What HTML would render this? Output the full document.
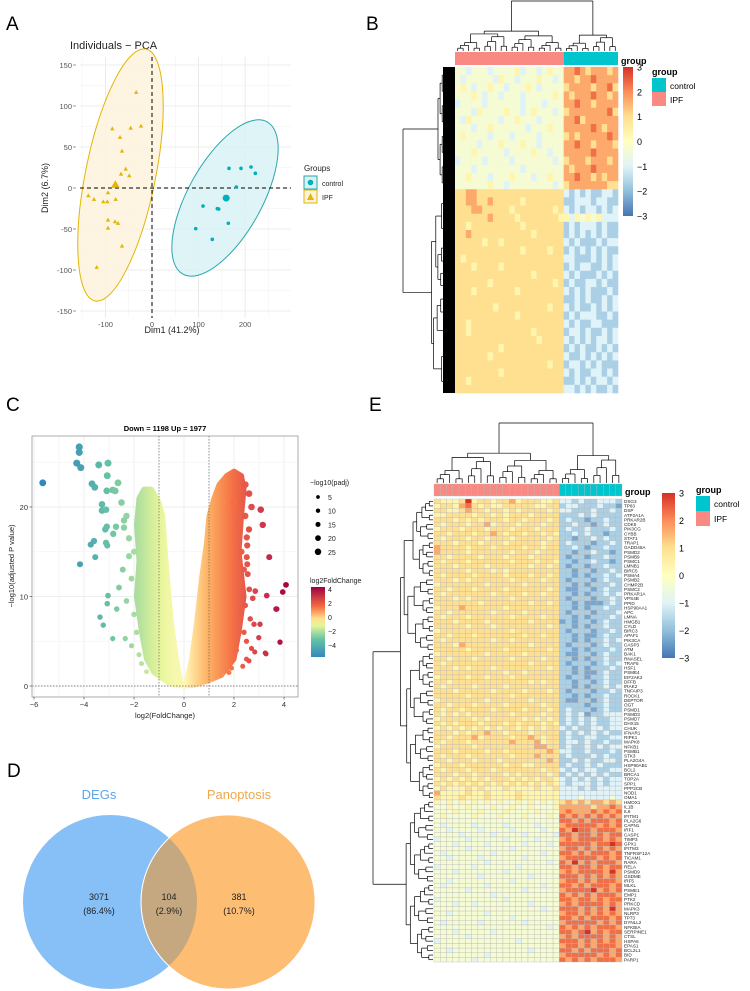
<!DOCTYPE html>
<html><head><meta charset="utf-8"><style>
html,body{margin:0;padding:0;background:#fff;}
svg{display:block;font-family:"Liberation Sans",sans-serif;}
</style></head><body>
<svg id="fig" width="750" height="991" viewBox="0 0 750 991" xmlns="http://www.w3.org/2000/svg">
<defs>
<linearGradient id="hmGrad" x1="0" y1="1" x2="0" y2="0">
<stop offset="0" stop-color="#4575b4"/><stop offset="0.1667" stop-color="#91bfdb"/><stop offset="0.333" stop-color="#e0f3f8"/><stop offset="0.5" stop-color="#ffffbf"/><stop offset="0.667" stop-color="#fee090"/><stop offset="0.833" stop-color="#fc8d59"/><stop offset="1" stop-color="#d73027"/>
</linearGradient>
<linearGradient id="fcBar" x1="0" y1="1" x2="0" y2="0">
<stop offset="0" stop-color="#3288bd"/><stop offset="0.25" stop-color="#66c2a5"/><stop offset="0.45" stop-color="#e6f598"/><stop offset="0.55" stop-color="#fee08b"/><stop offset="0.72" stop-color="#f46d43"/><stop offset="1" stop-color="#9e0142"/>
</linearGradient>
</defs>
<g id="panelA"></g>
<g id="panelB"></g>
<g id="panelC"></g>
<g id="panelD"></g>
<g id="panelE"></g>
</svg>
<script>
// ---------- DATA ----------
const ipfDim1 = [-34,-85.3,-45.8,-23.6,-68.7,-64.4,-66.6,-56.5,-48.8,-136.8,-124.6,-94.5,-104.6,-96,-78,-94.5,-94.5,-79.5,-73,-64.4,-118.8];
const ipfDim2 = [116.7,72.3,73.2,75.6,61.8,45.1,17.1,23.2,15,-9.4,-13.8,-5.7,-16.7,-16.7,-13.8,-39,-48.8,-41.1,-43,-70.7,-96.7];
const ctlDim1 = [165.4,191.2,212.7,222,181.1,109.6,140.3,143.3,164,93.9,129.5];
const ctlDim2 = [24,24,25.6,17.9,1.2,-22,-25.2,-25.6,-43,-49.6,-62.6];
const pcaXTicks = [-100,0,100,200];
const pcaYTicks = [-150,-100,-50,0,50,100,150];

const volcFC = [-5.65,-4.19,-4.19,-4.29,-4.13,-3.41,-3.04,-3.07,-3.68,-3.57,-2.64,-3.28,-3.09,-2.85,-2.75,-3.28,-3.12,-3.09,-3.15,-2.72,-2.83,-2.4,-3.6,-3.73,-3.55,-3.12,-3.07,-4.16,-3.04,-3.07,-2.69,-3.36,-3.23,-2.85,-2.35,-2.5,-2.3,-2.2,-2.45,-2.1,-2.3,-2.0,-2.6,-2.2,-1.9,-2.1,-1.8,-2.4,-2.0,-1.7,-1.6,-1.5,
3.07,3.15,3.41,4.08,3.95,3.68,3.31,3.84,3.25,3.04,2.85,2.61,2.51,2.53,2.53,2.51,3.71,3.84,3.28,2.83,2.99,2.8,2.6,2.7,2.55,2.45,2.65,2.4,2.7,2.5,2.35,2.6,2.45,2.3,2.2,2.4,2.5,2.3,2.1,2.6,2.45,2.75,1.9,1.8,1.6,1.5,2.2,2.0];
const volcP = [22.7,26.7,26.1,24.9,24.4,24.7,24.9,23.5,22.6,22.2,22.7,20.3,21.8,21.9,21.8,19.6,19.7,17.8,17.5,17.8,17,17.7,16.2,15.8,14.4,16,15.7,13.6,10.1,9.2,8.6,7.7,6.8,5.3,5.3,20.5,19,16.5,13,12,9.5,8,11,14.5,6,4.5,3.5,18.5,15,2.5,7,1.6,
19.7,18,14.4,11.3,10.5,8.6,10.1,4.9,3.7,6.9,10.6,10.8,14.4,13.6,15.7,16.6,8.6,4.9,3.6,3.8,5.4,6.9,21.5,20,12.5,9,7.5,6,4.2,3,2.2,17.5,19,15,11.5,13,5,8.5,4,2.8,22.5,9.8,2,1.5,3.2,1.2,18,20.5];
const upEnvFC = [0.05,0.3,0.5,0.7,0.9,1.0,1.2,1.4,1.7,2.0,2.3,2.4,2.3,2.2,2.4,2.2,2.0,1.5,1.0,0.4];
const upEnvP  = [0,3,7,12,16,19,21,22.5,23.5,24,23.5,22,19,15,10,6,3,1.2,0.6,0.1];
const dnEnvFC = [-0.1,-0.3,-0.5,-0.6,-0.75,-0.85,-1.0,-1.3,-1.6,-1.8,-1.9,-1.8,-1.9,-1.7,-1.5,-1.2,-0.6];
const dnEnvP  = [0,3,7,10,15,19,20.5,22,22,21,18,14,10,6,3,1.5,0.3];
const volcXTicks = [-6,-4,-2,0,2,4];
const volcYTicks = [0,10,20];
const sizeLegend = [5,10,15,20,25];
const fcLegend = [4,2,0,-2,-4];

const vennLabels = ["3071","104","381"];
const vennPct = ["(86.4%)","(2.9%)","(10.7%)"];

// heatmap B rows (20 IPF + 10 control), digit d -> (d-4.5)/1.5
const heatB = [
"44344434444534434544 7787677767","43444443544344454434 7767787777","45434454434445434444 6777767786",
"44454344344434444454 7677787767","34444344444434443444 7787767777","44435444454434544434 6777777786",
"43544444344544434444 7786777777","44434454444443444544 7777787677","45444434443444434444 6767777787",
"44443444544454434444 7787767776","44454444434444544344 7777787777","34444344443444444434 6777677767",
"44434444444434444444 7677787777","44544434445444344544 7787767677","44444454434444444434 6777777766",
"66776666666666666666 3232322332","66776676666656666666 2233323322","66677666665666666656 3232332323",
"66666676666566666665 5354545333","66566666666656666666 2323332322","66766666666666566666 2323232322",
"66666566566666666666 3232223233","66666666666656666566 2323232322","65666666666666666666 3322232323",
"66656666566666666666 2323322323","66666666666666566666 3232223232","66666656666666666656 2322332322",
"66656666666566666666 3232322232","66666666666666666666 2232322323","66666665666666666566 3232232323",
"66666666666566666666 2323332232","66566666666666666666 3232233222","66566666666666566666 2332322323",
"66666666666666656666 3232323323","66666666566666666666 2323223232","66666656666666666666 3223232323",
"66666666666666666566 2332323222","66666666566666666666 3232233232","66566666666666666666 2232323323",
"66666666666666666666 3323232232"];

const heatE = [
"65556956656675666556 3323223332","56657865655666665566 2332223221","66556766566565666656 3322232232",
"55666656656566656666 2223232222","66656565666566566656 2322122322","65666566756665666566 2232212322",
"56665666566656665666 2322322232","66566656676566566565 2232322122","65666566566656666656 2212232322",
"66656665666566666566 2322212232","76666566656666566566 2232122322","76666566666656665666 2212232212",
"66566665666566656666 2122122322","65666566666656665665 2212232212","66656666566666656656 2122122322",
"66666566656566666666 2212212232","65666656666566656656 2212122323","66656566666656666566 2122212322",
"56666666566666566666 2212122232","66566656666566666656 2112212322","65666666656666566566 2212122323",
"66656566666656666666 2122212232","66666665666666656656 2212111232","56667666666566666666 2212122322",
"66566666656666566666 2122212223","65666566666656666566 2212122232","66656666566666656666 1212212322",
"66666566656666666656 2212122322","56666666666656666666 2122212232","66566656666666566566 2212112322",
"65666666656656666666 2212122323","66657666666666656666 2122212322","66666566666566666656 2212122232",
"56666666566666566666 2112212322","66566656666656666566 2212122322","65666666666666656666 2122212323",
"66656566656666666656 2212122232","66666666666566566666 2212112322","56666566566656666666 2122122322",
"66566666666666656566 2212212322","65666656666566666666 2212122323","66656666656666566656 2122212232",
"66666566666656666666 2212122322","56666666566666656666 2112212322","66566656666566666566 2222122322",
"65665666656666566656 2322212322","65656566666656666566 2323122333","56666656566666565656 2323232233",
"65656665666565666565 2323232233","56565656565665656566 3232233233","66656566766566656666 2323232322",
"66566675666656676566 2322332233","65666566666676667566 2332322322","56666656666666667766 2322323233",
"66656666566566666676 3322322232","65666566666656667666 2322232322","66566656665666666676 2232322332",
"56665666666566556666 2322323222","65666566656666666566 3232332233","66656656666565666656 2323232322",
"56565656566656565665 3232323233","65656565656565656565 3233323233","56555656555655556556 3332323333",
"75555655655556555555 3333333333","65556555655556555555 3334333343",
"54545454545445454545 6767677676","44544544454454454445 7777767787","44454445444544445444 7877787878",
"45444454445444544454 8787878787","44444444444444444444 8878788878","43444434444344443444 7888887878",
"44344443444434444344 8798878887","44443444434444344443 8878878788","34444344444344443444 7878888787",
"44434444344444344434 8888878898","44444344444434444444 7887878787","43444444434444444344 8878788878",
"44344443444444344444 7888887878","44444444344444444434 8797878887","34444434444443444444 8878878788",
"44434444444344444444 7878888797","44444443444444434444 8887878787","44344444444434444444 7887878887",
"43444444344444444344 8878788878","44444344444444344444 7888897878","44444444434444444444 8787878887",
"34444444444344444444 8878878788","44434434444444434444 7878888787","44444444444444444344 8887878797",
"44344444344444444444 7887878787","44444444444434444444 8878788878","43444443444444344444 7888887878",
"44444444444444444434 8787878887","44434444434444444444 8878978788","44444344444444444444 7878888787",
"34444444444443444444 8887878787","44444444444444444444 7887878887","44344444444444434444 8878788878",
"44444444344444444444 7888887878","44444434444444444444 8787878887"];

const heatEGenes = ["DSG3","TP63","DSP","ATP2A1A","PRKAR2B","CDK5","PIK3CG","CYBB","STAT1","TRAP1","GADD45A","PSMD2","PSMB9","PSMC1","LMNB1","BIRC5","PSMA4","PSMB2","CHMP2B","PSMC2","PRKAR1A","VPS4B","PPID","HSP90AA1","APC","LMNA","HMGB1","CYLD","BIRC3","APAF1","PIK3CA","CASP3","ATM","BAK1","RNASEL","TRAF5","HSF1","PSME4","EIF2AK2","DFFB","IRAK2","TNFAIP3","ROCK1","DEPTOR","OGT","PSMD1","PSMD3","PSMD7","DHX15","CHUK","IFNAR1","RIPK1","MAPK8","NFKB1","PSMB1","STK3","PLA2G4A","HSP90AB1","BCL2","BRCA1","TOP2A","SPP1","PPP2CB","NOD1","OMA1",
"HMOX1","IL1B","IL6","IFITM1","PLA2G6","CAPN1","IRF1","CASP1","TIMP3","GPX1","IFITM3","TNFRSF12A","TICAM1","RARA","RELA","PSMD9","GSDME","IRF5","MLKL","PSME1","EMP1","PTK2","PRKCD","MAPK3","NLRP3","TP73","DYNLL2","NFKBIA","SERPINE1","CTSL","HSPA5","EPAS1","BCL2L1","BID","PARP1","RBCK1","AKT1","BAX","TSPO"];
const heatTicks = [3,2,1,0,-1,-2,-3];

// ---------- HELPERS ----------
const NS = "http://www.w3.org/2000/svg";
function mk(tag, attrs, parent, txt){
  const e = document.createElementNS(NS, tag);
  for (const k in attrs) e.setAttribute(k, attrs[k]);
  if (txt !== undefined) e.textContent = txt;
  parent.appendChild(e);
  return e;
}
function hmColor(v){
  const st=[[-3,[69,117,180]],[-2,[145,191,219]],[-1,[224,243,248]],[0,[255,255,191]],[1,[254,224,144]],[2,[252,141,89]],[3,[215,48,39]]];
  v=Math.max(-3,Math.min(3,v));
  for(let i=0;i<st.length-1;i++){ if(v<=st[i+1][0]){ const t=(v-st[i][0]); const a=st[i][1],b=st[i+1][1];
    return `rgb(${Math.round(a[0]+(b[0]-a[0])*t)},${Math.round(a[1]+(b[1]-a[1])*t)},${Math.round(a[2]+(b[2]-a[2])*t)})`; } }
  return "rgb(215,48,39)";
}
function fcColor(v){
  const st=[[-5,[50,136,189]],[-3,[102,194,165]],[-1,[230,245,152]],[0,[255,250,185]],[1,[253,174,97]],[2,[244,109,67]],[3,[213,62,79]],[4.2,[158,1,66]]];
  v=Math.max(-5,Math.min(4.2,v));
  for(let i=0;i<st.length-1;i++){ if(v<=st[i+1][0]){ const t=(v-st[i][0])/(st[i+1][0]-st[i][0]); const a=st[i][1],b=st[i+1][1];
    return `rgb(${Math.round(a[0]+(b[0]-a[0])*t)},${Math.round(a[1]+(b[1]-a[1])*t)},${Math.round(a[2]+(b[2]-a[2])*t)})`; } }
  return "rgb(158,1,66)";
}
function decode(s){ return s.replace(/ /g,"").split("").map(c=>(+c-4.5)/1.5); }

function dendro(parent, pos, base, unit, orient, name){
  function line(x1,y1,x2,y2){
    const l = orient==='top' ? mk('line',{x1:x1,y1:y1,x2:x2,y2:y2,stroke:'#000','stroke-width':0.7},parent)
                             : mk('line',{x1:y1,y1:x1,x2:y2,y2:x2,stroke:'#000','stroke-width':0.7},parent);
    
    
  }
  function build(lo,hi){
    if(lo===hi) return {p:pos(lo),h:0};
    const m=Math.floor((lo+hi)/2);
    const a=build(lo,m), b=build(m+1,hi);
    const h=Math.max(a.h,b.h)+unit*(1+((lo*7+hi*3)%3)*0.35);
    line(a.p,base-a.h,a.p,base-h);
    line(b.p,base-b.h,b.p,base-h);
    line(a.p,base-h,b.p,base-h);
    return {p:(a.p+b.p)/2,h:h};
  }
  return {build, line};
}

// ---------- PANEL A: PCA ----------
(function(){
  const g=document.getElementById('panelA');
  const X=v=>152+v*0.4655, Y=v=>188-v*0.82;
  const L=80,R=291,T=57,B=318;
  let t=mk('text',{x:6,y:30,'font-size':19},g,'A');
  
  
  t=mk('text',{x:70,y:49,'font-size':11,fill:'#222'},g,'Individuals − PCA');
  
  
  for(let v=-150;v<=250;v+=50){
    const l=mk('line',{x1:X(v),y1:T,x2:X(v),y2:B,stroke:v%100===0?'#e6e6e6':'#f2f2f2','stroke-width':v%100===0?0.8:0.5},g);
    
    
  }
  for(let v=-150;v<=150;v+=25){
    const l=mk('line',{x1:L,y1:Y(v),x2:R,y2:Y(v),stroke:v%50===0?'#e6e6e6':'#f2f2f2','stroke-width':v%50===0?0.8:0.5},g);
    
    
  }
  pcaYTicks.forEach(v=>{
    const tt=mk('text',{x:72,y:Y(v)+3,'font-size':7.5,fill:'#555','text-anchor':'end'},g,v);
    
    
    const tk=mk('line',{x1:73,y1:Y(v),x2:76,y2:Y(v),stroke:'#555','stroke-width':0.6},g);
    
    
  });
  pcaXTicks.forEach(v=>{
    const tt=mk('text',{x:X(v),y:327,'font-size':7.5,fill:'#555','text-anchor':'middle'},g,v);
    
    
  });
  let e=mk('ellipse',{cx:120.5,cy:175,rx:35,ry:128.5,transform:'rotate(11.4 120.5 175)',fill:'#fdf3dc','fill-opacity':0.85,stroke:'#e3b505','stroke-width':1},g);
  
  
  e=mk('ellipse',{cx:225,cy:198,rx:37,ry:87,transform:'rotate(29 225 198)',fill:'#d8f2f4','fill-opacity':0.85,stroke:'#2ba6ae','stroke-width':1},g);
  
  
  let d=mk('line',{x1:X(0),y1:T,x2:X(0),y2:B,stroke:'#000','stroke-dasharray':'4 3','stroke-width':1},g);
  
  
  d=mk('line',{x1:L,y1:Y(0),x2:R,y2:Y(0),stroke:'#000','stroke-dasharray':'4 3','stroke-width':1},g);
  
  
  ipfDim1.forEach((v,i)=>{
    const x=X(v),y=Y(ipfDim2[i]);
    const p=mk('polygon',{points:`${x},${y-2.3} ${x-2.2},${y+1.6} ${x+2.2},${y+1.6}`,fill:'#e3b505'},g);
    
    
  });
  const mx=ipfDim1.reduce((a,b)=>a+b)/ipfDim1.length, my=ipfDim2.reduce((a,b)=>a+b)/ipfDim2.length;
  let cx=X(mx),cy=Y(my);
  let c=mk('polygon',{points:`${cx},${cy-4.5} ${cx-4.3},${cy+3} ${cx+4.3},${cy+3}`,fill:'#e3b505'},g);
  
  
  ctlDim1.forEach((v,i)=>{
    const p=mk('circle',{cx:X(v),cy:Y(ctlDim2[i]),r:1.8,fill:'#00afbb'},g);
    
    
  });
  const cmx=ctlDim1.reduce((a,b)=>a+b)/ctlDim1.length, cmy=ctlDim2.reduce((a,b)=>a+b)/ctlDim2.length;
  c=mk('circle',{cx:X(cmx),cy:Y(cmy),r:3.5,fill:'#00afbb'},g);
  
  
  t=mk('text',{x:172,y:333,'font-size':9,fill:'#222','text-anchor':'middle'},g,'Dim1 (41.2%)');
  
  
  t=mk('text',{x:48,y:188,'font-size':9,fill:'#222','text-anchor':'middle',transform:'rotate(-90 48 188)'},g,'Dim2 (6.7%)');
  
  
  t=mk('text',{x:304,y:171,'font-size':8,fill:'#222'},g,'Groups');
  
  
  let r=mk('rect',{x:304,y:176,width:13,height:13,fill:'#d8f2f4',stroke:'#2ba6ae'},g);
  
  
  c=mk('circle',{cx:310.5,cy:182.5,r:2.8,fill:'#00afbb'},g);
  
  
  r=mk('rect',{x:304,y:190,width:13,height:13,fill:'#fdf3dc',stroke:'#e3b505'},g);
  
  
  c=mk('polygon',{points:'310.5,193 307,200 314,200',fill:'#e3b505'},g);
  
  
  t=mk('text',{x:322,y:186,'font-size':7,fill:'#222'},g,'control');
  
  
  t=mk('text',{x:322,y:200,'font-size':7,fill:'#222'},g,'IPF');
  
  
})();

// ---------- Generic heatmap ----------
function heatmap(g, data, x0, x1, y0, y1, nIpf, border, prefix){
  const rows=data.map(decode);
  const nc=rows[0].length, nr=rows.length;
  const cw=(x1-x0)/nc, rh=(y1-y0)/nr;
  rows.forEach((row,i)=>row.forEach((v,j)=>{
    const attrs={x:x0+j*cw,y:y0+i*rh,width:cw+(border?0:0.3),height:rh+(border?0:0.3),fill:hmColor(v)};
    if(border){attrs.stroke='#b8b8b8';attrs['stroke-width']=0.35;}
    const c=mk('rect',attrs,g);
    
    
  }));
  return {cw,rh,nr,nc};
}

// ---------- PANEL B ----------
(function(){
  const g=document.getElementById('panelB');
  let t=mk('text',{x:366,y:30,'font-size':19},g,'B');
  
  
  const x0=455,x1=618,y0=67,y1=393;
  const info=heatmap(g,heatB,x0,x1,y0,y1,20,false,'heatmap-b');
  const cw=info.cw;
  let r=mk('rect',{x:x0,y:52,width:cw*20,height:13,fill:'#f8766d','fill-opacity':0.85},g);
  
  
  r=mk('rect',{x:x0+cw*20,y:52,width:cw*10,height:13,fill:'#00c5cd'},g);
  
  
  t=mk('text',{x:621,y:64,'font-size':9,'font-weight':'bold'},g,'group');
  
  
  const gd=mk('g',{},g);
  
  
  const dA=dendro(gd,i=>x0+cw*(i+0.5),51,2.8,'top','column-dendrogram-branch');
  const a=dA.build(0,19);
  const dC=dendro(gd,i=>x0+cw*(20+i+0.5),51,2.6,'top','column-dendrogram-branch');
  const b=dC.build(0,9);
  dA.line(a.p,51-a.h,a.p,1); dA.line(b.p,51-b.h,b.p,1); dA.line(a.p,1,b.p,1);
  const gl=mk('g',{},g);
  
  
  const n=160, rh=(y1-y0)/n;
  const dl=dendro(gl,i=>y0+rh*(i+0.5),455,2.1,'left','row-dendrogram-branch');
  const ta=dl.build(0,59);
  const dl2=dendro(gl,i=>y0+rh*(60+i+0.5),455,2.1,'left','row-dendrogram-branch');
  const tb=dl2.build(0,99);
  dl.line(ta.p,455-ta.h,ta.p,403); dl.line(tb.p,455-tb.h,tb.p,403); dl.line(ta.p,403,tb.p,403);
  const blk=mk('rect',{x:443,y:y0,width:12,height:y1-y0,fill:'#000'},gl);
  
  
  r=mk('rect',{x:623,y:67,width:10,height:149,fill:'url(#hmGrad)'},g);
  
  
  heatTicks.forEach(v=>{
    const tt=mk('text',{x:637,y:67+(3-v)/6*149+3.5,'font-size':9},g,v<0?'−'+(-v):v);
    
    
  });
  t=mk('text',{x:652,y:75,'font-size':9,'font-weight':'bold'},g,'group');
  
  
  r=mk('rect',{x:652,y:78,width:14,height:14,fill:'#00c5cd'},g);
  
  
  r=mk('rect',{x:652,y:92,width:14,height:14,fill:'#f8766d','fill-opacity':0.85},g);
  
  
  t=mk('text',{x:670,y:89,'font-size':8.5},g,'control');
  
  
  t=mk('text',{x:670,y:103,'font-size':8.5},g,'IPF');
  
  
})();

// ---------- PANEL C: Volcano ----------
(function(){
  const g=document.getElementById('panelC');
  const X=v=>184+v*25, Y=v=>686-v*8.95;
  const L=32,R=298,T=436,B=697;
  let t=mk('text',{x:6,y:411,'font-size':19},g,'C');
  
  
  t=mk('text',{x:165,y:431,'font-size':7.5,'font-weight':'bold','text-anchor':'middle'},g,'Down = 1198 Up = 1977');
  
  
  for(let v=-6;v<=4;v+=1){
    const l=mk('line',{x1:X(v),y1:T,x2:X(v),y2:B,stroke:v%2===0?'#e8e8e8':'#f3f3f3','stroke-width':0.7},g);
    
    
  }
  for(let v=0;v<=27;v+=5){
    const l=mk('line',{x1:L,y1:Y(v),x2:R,y2:Y(v),stroke:v%10===0?'#e8e8e8':'#f3f3f3','stroke-width':0.7},g);
    
    
  }
  function env(fc,p,name){
    const pts=fc.map((v,i)=>X(v)+','+Y(p[i])).join(' ');
    const pg=mk('polygon',{points:pts,fill:'url(#cloudGrad)',stroke:'url(#cloudGrad)','stroke-width':5,'stroke-linejoin':'round'},g);
    
    
  }
  const defs=document.querySelector('defs');
  const lg=mk('linearGradient',{id:'cloudGrad',gradientUnits:'userSpaceOnUse',x1:X(-5),y1:0,x2:X(4.2),y2:0},defs);
  for(let k=0;k<=20;k++){ const v=-5+k*9.2/20; mk('stop',{offset:k/20,'stop-color':fcColor(v)},lg); }
  env(upEnvFC,upEnvP,'upregulated-gene-cloud');
  env(dnEnvFC,dnEnvP,'downregulated-gene-cloud');
  volcFC.forEach((v,i)=>{
    const c=mk('circle',{cx:X(v),cy:Y(volcP[i]),r:2.4+volcP[i]*0.045,fill:fcColor(v)},g);
    
    
  });
  [-1,1].forEach(v=>{
    const l=mk('line',{x1:X(v),y1:T,x2:X(v),y2:B,stroke:'#666','stroke-dasharray':'1.5 1.5','stroke-width':0.7},g);
    
    
  });
  let l=mk('line',{x1:L,y1:Y(0),x2:R,y2:Y(0),stroke:'#666','stroke-dasharray':'1.5 1.5','stroke-width':0.7},g);
  
  
  let r=mk('rect',{x:L,y:T,width:R-L,height:B-T,fill:'none',stroke:'#999','stroke-width':0.8},g);
  
  
  volcXTicks.forEach(v=>{
    const tt=mk('text',{x:X(v),y:707,'font-size':7.5,fill:'#333','text-anchor':'middle'},g,v<0?'−'+(-v):v);
    
    
    const tk=mk('line',{x1:X(v),y1:B,x2:X(v),y2:B+2.5,stroke:'#333','stroke-width':0.6},g);
    
    
  });
  volcYTicks.forEach(v=>{
    const tt=mk('text',{x:28,y:Y(v)+3,'font-size':7.5,fill:'#333','text-anchor':'end'},g,v);
    
    
    const tk=mk('line',{x1:L-2.5,y1:Y(v),x2:L,y2:Y(v),stroke:'#333','stroke-width':0.6},g);
    
    
  });
  t=mk('text',{x:165,y:718,'font-size':7.5,fill:'#222','text-anchor':'middle'},g,'log2(FoldChange)');
  
  
  t=mk('text',{x:14,y:566,'font-size':7.5,fill:'#222','text-anchor':'middle',transform:'rotate(-90 14 566)'},g,'−log10(adjusted P value)');
  
  
  t=mk('text',{x:310,y:485,'font-size':7,fill:'#222'},g,'−log10(padj)');
  
  
  sizeLegend.forEach((v,i)=>{
    const c=mk('circle',{cx:318,cy:497+i*13.7,r:1.5+v*0.07,fill:'#000'},g);
    
    
    const tt=mk('text',{x:328,y:500+i*13.7,'font-size':7,fill:'#222'},g,v);
    
    
  });
  t=mk('text',{x:310,y:583,'font-size':7,fill:'#222'},g,'log2FoldChange');
  
  
  r=mk('rect',{x:311,y:587,width:14,height:70,fill:'url(#fcBar)'},g);
  
  
  fcLegend.forEach((v,i)=>{
    const tt=mk('text',{x:328,y:592+i*14,'font-size':7,fill:'#222'},g,v<0?'−'+(-v):v);
    
    
  });
})();

// ---------- PANEL D: Venn ----------
(function(){
  const g=document.getElementById('panelD');
  let t=mk('text',{x:7,y:777,'font-size':19},g,'D');
  
  
  let c=mk('circle',{cx:110,cy:902,r:87,fill:'#87bff7'},g);
  
  
  c=mk('circle',{cx:228,cy:902,r:87,fill:'#fdbe73',stroke:'#fff','stroke-width':0.8},g);
  
  
  mk('clipPath',{id:'clipL'},document.querySelector('defs'));
  mk('circle',{cx:110,cy:902,r:87},document.getElementById('clipL'));
  c=mk('circle',{cx:228,cy:902,r:87,fill:'#c6a880','clip-path':'url(#clipL)',stroke:'#fff','stroke-width':1},g);
  
  
  t=mk('text',{x:99,y:799,'font-size':13,fill:'#5aa6e6','text-anchor':'middle'},g,'DEGs');
  
  
  t=mk('text',{x:239,y:799,'font-size':13,fill:'#f0a74f','text-anchor':'middle'},g,'Panoptosis');
  
  
  const xs=[99,169,239];
  vennLabels.forEach((v,i)=>{
    const a=mk('text',{x:xs[i],y:900,'font-size':9,fill:'#222','text-anchor':'middle'},g,v);
    
    
    const b=mk('text',{x:xs[i],y:914,'font-size':9,fill:'#222','text-anchor':'middle'},g,vennPct[i]);
    
    
  });
})();

// ---------- PANEL E ----------
(function(){
  const g=document.getElementById('panelE');
  let t=mk('text',{x:369,y:411,'font-size':19},g,'E');
  
  
  const x0=434,x1=622,y0=499,y1=962;
  const info=heatmap(g,heatE,x0,x1,y0,y1,20,true,'heatmap-e');
  const cw=info.cw, rh=info.rh;
  for(let j=0;j<30;j++){
    const r=mk('rect',{x:x0+j*cw,y:484,width:cw,height:12,fill:j<20?'#f8766d':'#00c5cd','fill-opacity':j<20?0.85:1,stroke:'#b8b8b8','stroke-width':0.35},g);
    
    
  }
  t=mk('text',{x:625,y:495,'font-size':9,'font-weight':'bold'},g,'group');
  
  
  heatEGenes.forEach((n,i)=>{
    if(i>=info.nr) return;
    const tt=mk('text',{x:624,y:y0+rh*(i+0.5)+1.6,'font-size':4.6,fill:'#222'},g,n);
    
    
  });
  const gd=mk('g',{},g);
  
  
  const dA=dendro(gd,i=>x0+cw*(i+0.5),483,4.2,'top','column-dendrogram-branch');
  const a=dA.build(0,19);
  const dC=dendro(gd,i=>x0+cw*(20+i+0.5),483,4.5,'top','column-dendrogram-branch');
  const b=dC.build(0,9);
  dA.line(a.p,483-a.h,a.p,423); dA.line(b.p,483-b.h,b.p,423); dA.line(a.p,423,b.p,423);
  const gl=mk('g',{},g);
  
  
  const nTop=65;
  const d1=dendro(gl,i=>y0+rh*(i+0.5),433,3.7,'left','row-dendrogram-branch');
  const ta=d1.build(0,nTop-1);
  const d2=dendro(gl,i=>y0+rh*(nTop+i+0.5),433,4.2,'left','row-dendrogram-branch');
  const tb=d2.build(0,info.nr-nTop-1);
  d1.line(ta.p,433-ta.h,ta.p,373); d1.line(tb.p,433-tb.h,tb.p,373); d1.line(ta.p,373,tb.p,373);
  let r=mk('rect',{x:662,y:493,width:13,height:165,fill:'url(#hmGrad)'},g);
  
  
  heatTicks.forEach(v=>{
    const tt=mk('text',{x:679,y:493+(3-v)/6*165+3.5,'font-size':9},g,v<0?'−'+(-v):v);
    
    
  });
  t=mk('text',{x:696,y:493,'font-size':9,'font-weight':'bold'},g,'group');
  
  
  r=mk('rect',{x:696,y:496,width:14,height:15,fill:'#00c5cd'},g);
  
  
  r=mk('rect',{x:696,y:511,width:14,height:15,fill:'#f8766d','fill-opacity':0.85},g);
  
  
  t=mk('text',{x:714,y:507,'font-size':8.5},g,'control');
  
  
  t=mk('text',{x:714,y:522,'font-size':8.5},g,'IPF');
  
  
})();
</script>
</body></html>
